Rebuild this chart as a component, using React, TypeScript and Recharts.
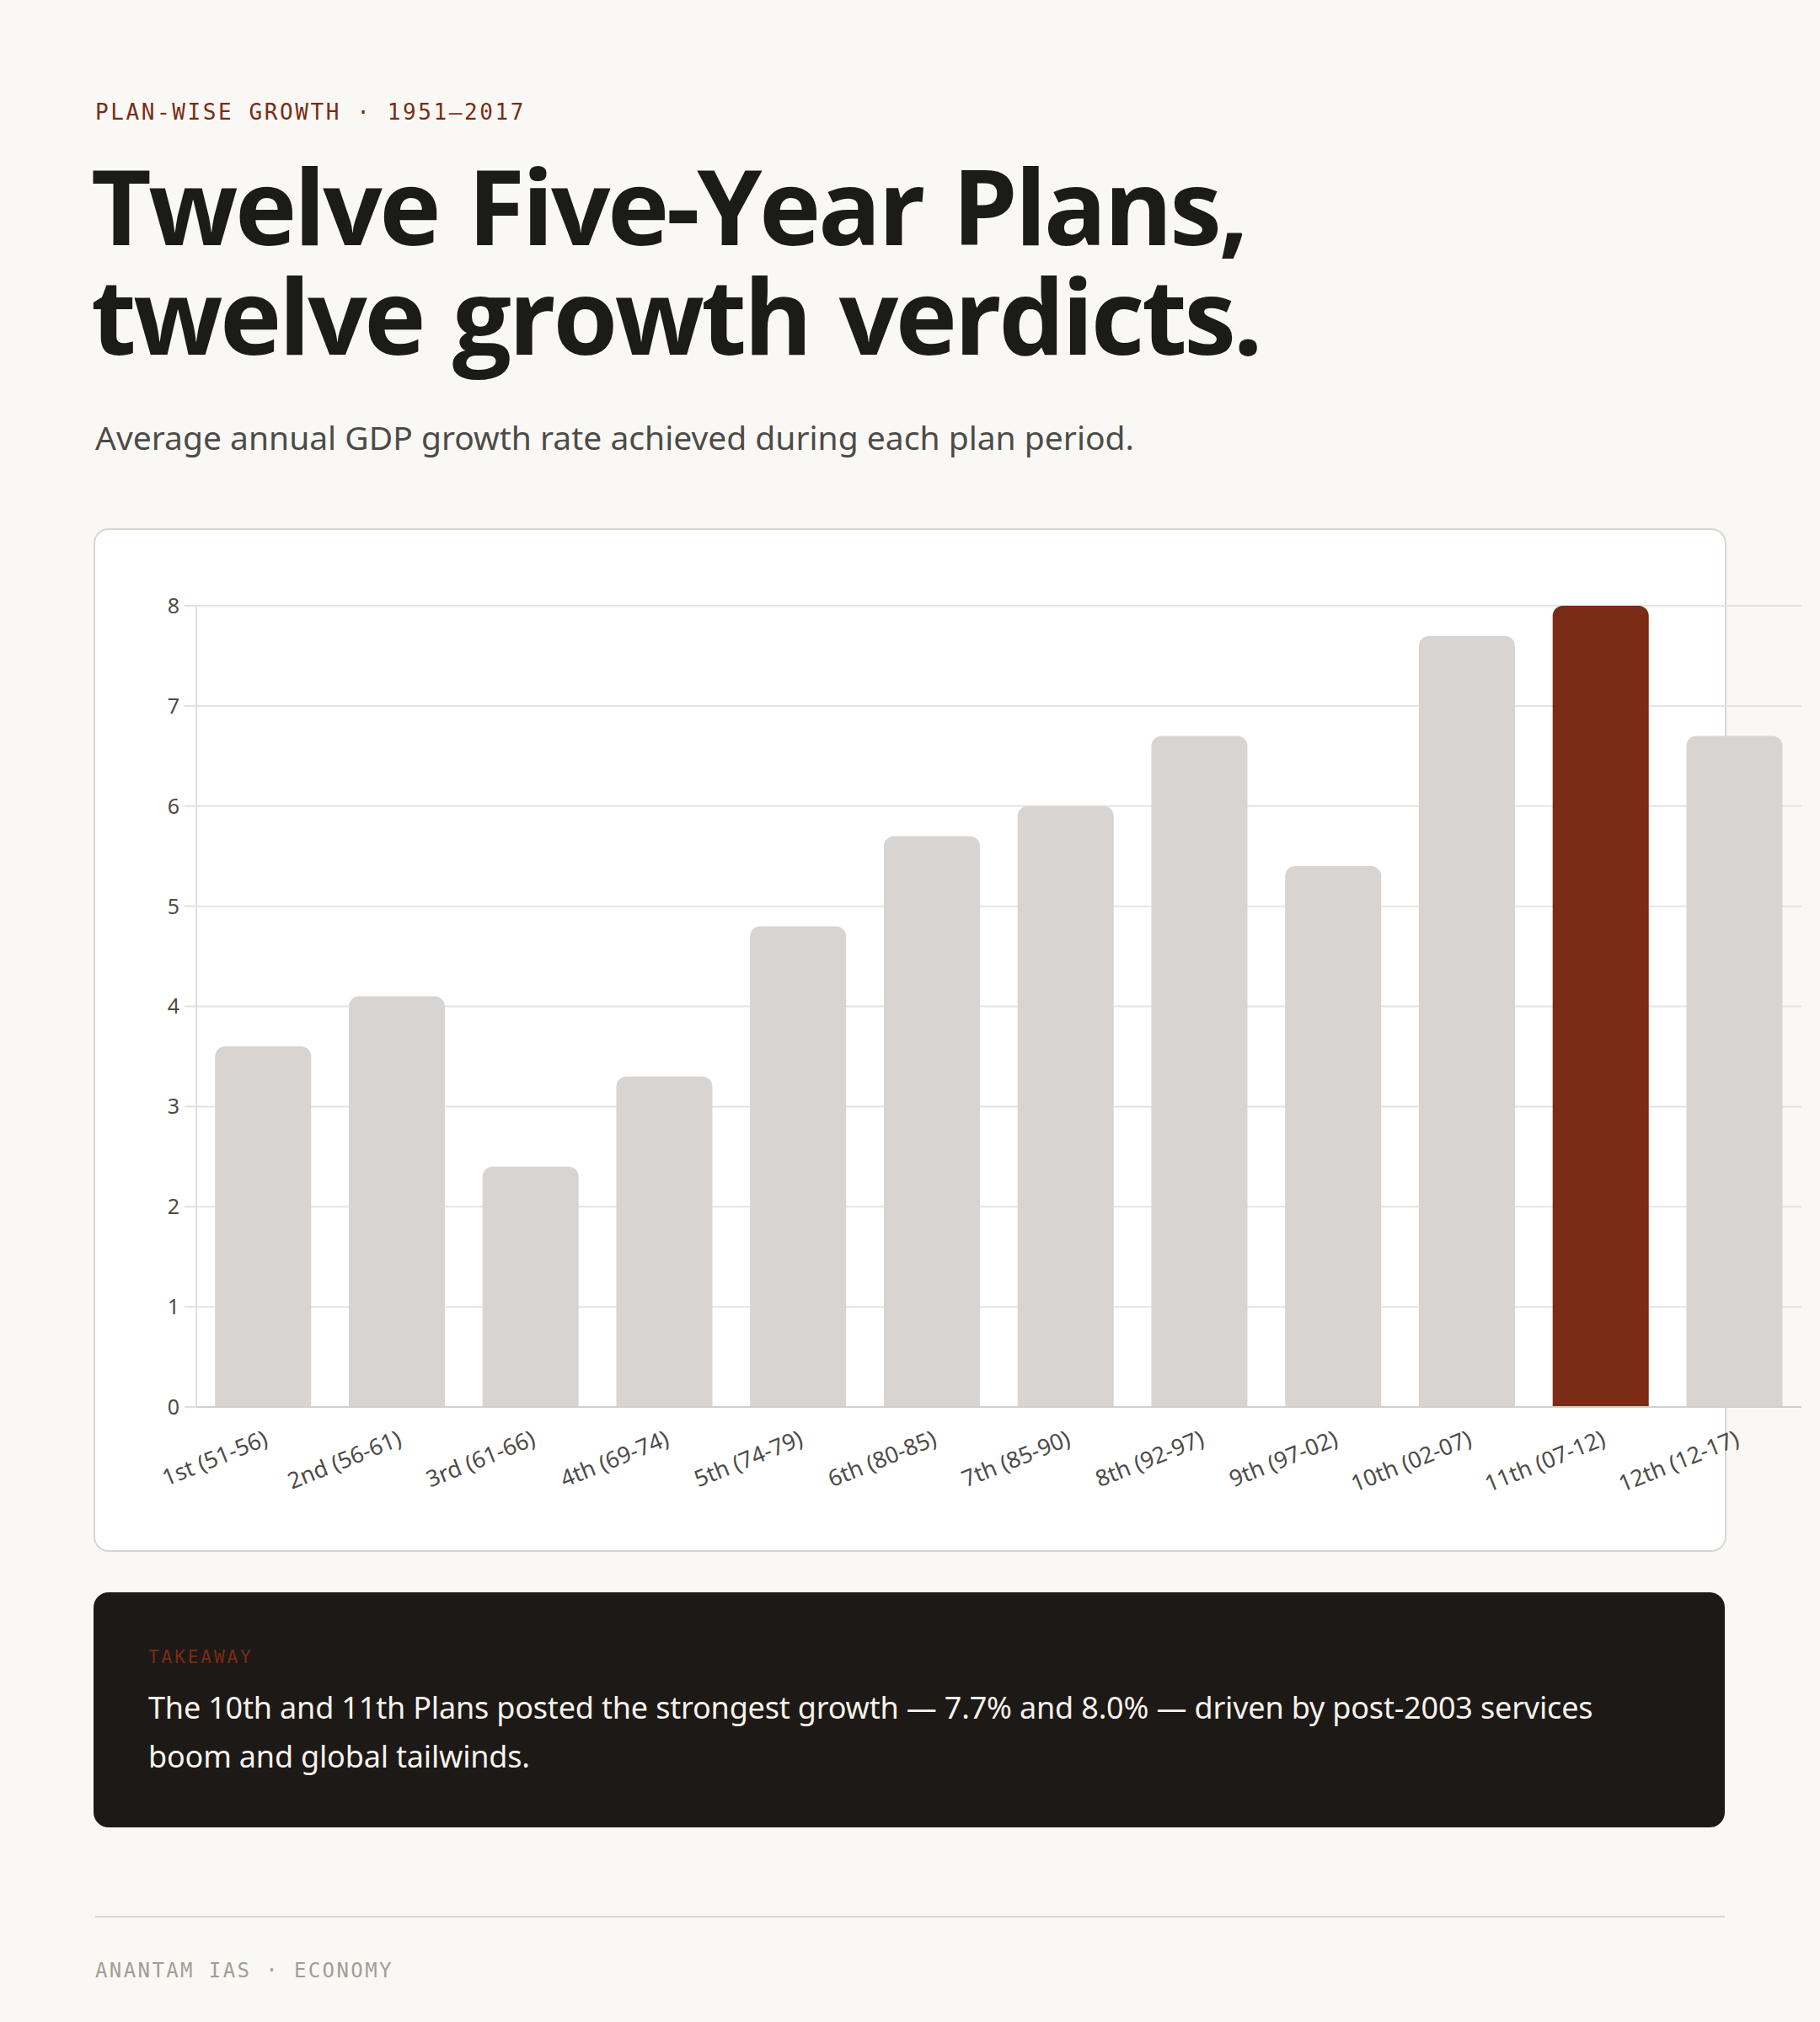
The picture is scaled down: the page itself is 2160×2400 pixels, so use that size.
import React from 'react';
import { BarChart, Bar, XAxis, YAxis, CartesianGrid, Cell } from 'recharts';

const plans = [
  '1st (51-56)',
  '2nd (56-61)',
  '3rd (61-66)',
  '4th (69-74)',
  '5th (74-79)',
  '6th (80-85)',
  '7th (85-90)',
  '8th (92-97)',
  '9th (97-02)',
  '10th (02-07)',
  '11th (07-12)',
  '12th (12-17)',
];

const growth = [3.6, 4.1, 2.4, 3.3, 4.8, 5.7, 6.0, 6.7, 5.4, 7.7, 8.0, 6.7];

const yTicks = [0, 1, 2, 3, 4, 5, 6, 7, 8];

const highlightPlan = '11th (07-12)';

const chartData = plans.map((plan, i) => ({ plan, growth: growth[i] }));

const MONO = '"DejaVu Sans Mono", "Liberation Mono", monospace';
const SANS = '"Noto Sans", "Open Sans", sans-serif';
const RUST = '#7b2c14';
const PAGE = '#f9f8f4';

if (typeof document !== 'undefined') {
  document.body.style.margin = '0';
  document.body.style.background = PAGE;
}

const titleStyle: React.CSSProperties = {
  position: 'absolute',
  left: 108,
  fontFamily: '"Open Sans", sans-serif',
  fontWeight: 700,
  fontSize: 124,
  lineHeight: '124px',
  letterSpacing: '-0.028em',
  wordSpacing: '0.05em',
  color: '#1b1b1a',
  whiteSpace: 'nowrap',
};

const App = () => {
  return (
    <div
      style={{
        position: 'relative',
        width: 2160,
        height: 2400,
        background: PAGE,
        overflow: 'hidden',
        fontFamily: SANS,
      }}
    >
      {/* kicker */}
      <div
        style={{
          position: 'absolute',
          left: 113,
          top: 116,
          fontFamily: MONO,
          fontSize: 26,
          letterSpacing: '0.1em',
          color: RUST,
          lineHeight: '34px',
        }}
      >
        PLAN-WISE GROWTH · 1951–2017
      </div>

      {/* title, one block per line */}
      <div style={{ ...titleStyle, top: 181 }}>Twelve Five-Year Plans,</div>
      <div style={{ ...titleStyle, top: 311 }}>twelve growth verdicts.</div>

      {/* subtitle */}
      <div
        style={{
          position: 'absolute',
          left: 113,
          top: 493,
          fontSize: 39,
          lineHeight: '52px',
          color: '#4d4b48',
        }}
      >
        Average annual GDP growth rate achieved during each plan period.
      </div>

      {/* chart card */}
      <div
        style={{
          position: 'absolute',
          left: 111,
          top: 627,
          width: 1934,
          height: 1211,
          background: '#ffffff',
          border: '2px solid #d9d6d1',
          borderRadius: 18,
        }}
      />

      <div style={{ position: 'absolute', left: 113, top: 689 }}>
        <BarChart
          width={2025}
          height={1111}
          data={chartData}
          margin={{ top: 30, right: 0, bottom: 0, left: 0 }}
          barCategoryGap="14%"
          style={{ overflow: 'visible' }}
        >
          <CartesianGrid vertical={false} stroke="#e6e4e1" strokeWidth={2} />
          <XAxis
            dataKey="plan"
            interval={0}
            height={130}
            tickLine={false}
            axisLine={{ stroke: '#d2d0cd', strokeWidth: 2 }}
            tickMargin={21}
            angle={-22}
            textAnchor="end"
            tick={{ fontSize: 27, fill: '#4d4b48', fontFamily: SANS }}
          />
          <YAxis
            width={120}
            domain={[0, 8]}
            ticks={yTicks}
            interval={0}
            tickSize={14}
            tickMargin={6}
            axisLine={{ stroke: '#e2e0dd', strokeWidth: 2 }}
            tickLine={{ stroke: '#e2e0dd', strokeWidth: 2 }}
            tick={{ fontSize: 25, fill: '#4d4b48', fontFamily: SANS }}
          />
          <Bar dataKey="growth" radius={[12, 12, 0, 0]} isAnimationActive={false}>
            {chartData.map((d) => (
              <Cell key={d.plan} fill={d.plan === highlightPlan ? RUST : '#d8d4d1'} />
            ))}
          </Bar>
        </BarChart>
      </div>

      {/* takeaway */}
      <div
        style={{
          position: 'absolute',
          left: 111,
          top: 1890,
          width: 1936,
          height: 279,
          boxSizing: 'border-box',
          background: '#1d1916',
          borderRadius: 18,
          padding: '62px 64px 0 65px',
        }}
      >
        <div
          style={{
            fontFamily: MONO,
            fontSize: 21,
            letterSpacing: '0.14em',
            color: RUST,
            lineHeight: '30px',
          }}
        >
          TAKEAWAY
        </div>
        <div
          style={{
            marginTop: 16,
            maxWidth: 1760,
            fontSize: 36,
            lineHeight: '58px',
            letterSpacing: '-0.005em',
            color: '#f6f2ec',
          }}
        >
          The 10th and 11th Plans posted the strongest growth — 7.7% and 8.0% — driven by post-2003 services boom and global tailwinds.
        </div>
      </div>

      {/* footer */}
      <div
        style={{
          position: 'absolute',
          left: 113,
          top: 2274,
          width: 1934,
          height: 2,
          background: '#d9d6d1',
        }}
      />
      <div
        style={{
          position: 'absolute',
          left: 113,
          top: 2322,
          fontFamily: MONO,
          fontSize: 24,
          letterSpacing: '0.1em',
          color: '#a29d97',
          lineHeight: '34px',
        }}
      >
        ANANTAM IAS · ECONOMY
      </div>
    </div>
  );
};

export default App;
